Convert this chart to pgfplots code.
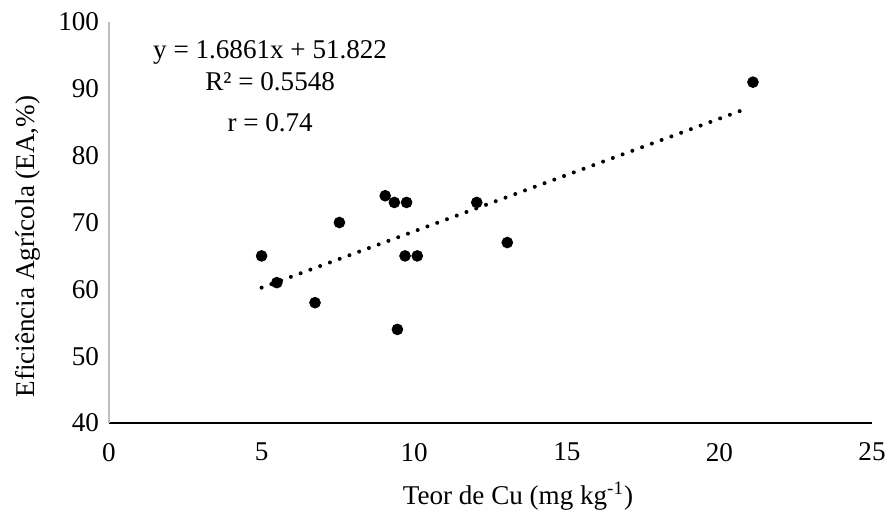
\documentclass[border=0pt]{standalone}
\usepackage{fontspec}
\setmainfont{Liberation Serif}
\usepackage{pgfplots}
\pgfplotsset{compat=1.18}
\usetikzlibrary{calc}
\newcommand{\chartfont}{\fontsize{13.6}{15.5}\selectfont}
\begin{document}
\begin{tikzpicture}
\begin{axis}[
  scale only axis, width=381.5bp, height=200.5bp,
  xmin=0, xmax=25, ymin=40, ymax=100,
  xtick={0,5,...,25}, ytick={40,50,...,100},
  axis x line*=bottom, axis y line*=left,
  x axis line style={black, line width=1bp},
  y axis line style={black!25, line width=0.6bp},
  major tick length=0pt,
  /pgf/number format/assume math mode=true,
  tick label style={font=\chartfont},
  xticklabel style={yshift=-6.5bp},
  yticklabel style={xshift=-1.5bp},
  xlabel={Teor de Cu (mg kg\textsuperscript{-1})},
  ylabel={Eficiência Agrícola (EA,\%)},
  every axis x label/.style={at={(axis description cs:0.536,-0.183)}, anchor=center, font=\chartfont},
  every axis y label/.style={at={(axis description cs:-0.106,0.44)}, rotate=90, anchor=center, font=\chartfont},
  clip=false,
]
\addplot[only marks, mark=*, mark size=2.7bp, black] coordinates {
  (5.0,65) (5.5,61) (6.75,58) (7.55,70) (9.05,74) (9.35,73) (9.75,73)
  (9.7,65) (10.1,65) (9.45,54) (12.05,73) (13.05,67) (21.1,91)
};
\addplot[black, line width=2bp, line cap=round, dash pattern=on 0pt off 5.2bp] coordinates {(5.0,60.25) (20.8,86.89)};
\node[font=\chartfont] at (axis cs:5.28,95.4) {y = 1.6861x + 51.822};
\node[font=\chartfont] at (axis cs:5.28,91.0) {R² = 0.5548};
\node[font=\chartfont] at (axis cs:5.28,85.0) {r = 0.74};
\end{axis}
\pgfresetboundingbox
\useasboundingbox ($(current axis.south west)+(-54.5bp,-44bp)$) rectangle ($(current axis.north east)+(9.5bp,11bp)$);
\end{tikzpicture}
\end{document}
